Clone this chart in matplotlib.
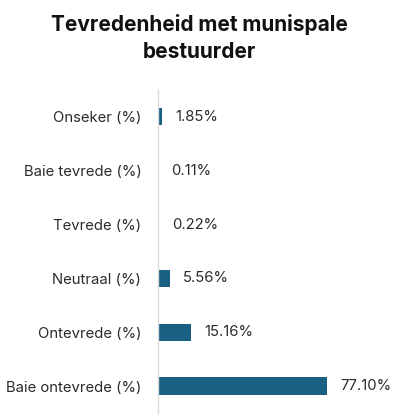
import matplotlib.pyplot as plt

# Data (bottom to top)
categories = ['Baie ontevrede (%)', 'Ontevrede (%)', 'Neutraal (%)',
              'Tevrede (%)', 'Baie tevrede (%)', 'Onseker (%)']
values = [77.10, 15.16, 5.56, 0.22, 0.11, 1.85]
value_labels = ['77.10%', '15.16%', '5.56%', '0.22%', '0.11%', '1.85%']

plt.rcParams['font.family'] = ['Inter', 'DejaVu Sans']

fig = plt.figure(figsize=(3.98, 4.18), dpi=100)
ax = fig.add_axes([0.397, 0.012, 0.55, 0.773])

ax.barh(range(len(categories)), values, height=0.32, color='#1b5f83')
ax.set_xlim(0, 100)
ax.set_ylim(-0.5, len(categories) - 0.5)

for i, (v, lab) in enumerate(zip(values, value_labels)):
    ax.annotate(lab, (v, i), xytext=(9.5, 0), textcoords='offset points',
                va='center', ha='left', fontsize=10.7, color='#2b2b2b')

ax.set_yticks(range(len(categories)))
ax.set_yticklabels(categories, fontsize=10.7, color='#2b2b2b')
ax.tick_params(axis='y', length=0, pad=12)
ax.set_xticks([])
for side in ['top', 'right', 'bottom']:
    ax.spines[side].set_visible(False)
ax.spines['left'].set_color('#d9d9d9')
ax.spines['left'].set_linewidth(1)

fig.text(0.5, 0.91, 'Tevredenheid met munispale\nbestuurder', ha='center', va='center',
         fontsize=15, fontweight='bold', color='#111111', linespacing=1.45)

fig.savefig('out.png', dpi=100)
